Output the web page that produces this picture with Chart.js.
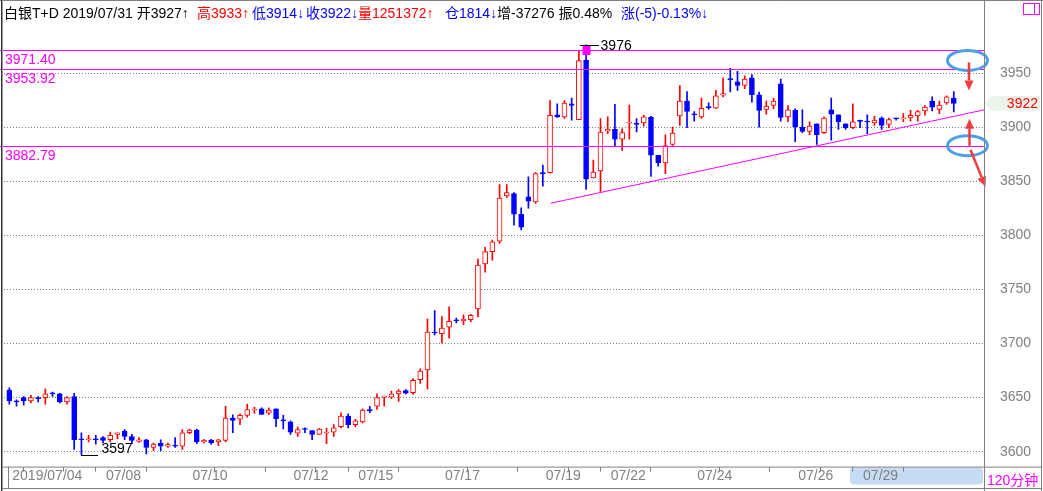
<!DOCTYPE html>
<html><head><meta charset="utf-8">
<script src="https://cdn.jsdelivr.net/npm/chart.js@4/dist/chart.umd.min.js"></script>
<style>html,body{margin:0;padding:0;background:#fff;overflow:hidden}canvas{display:block}</style>
</head><body><canvas id="c" width="1043" height="491"></canvas>
<script>
// ---- data (120-minute candles, 白银T+D) ----
const opens = [3657,3646.3,3650,3647,3649.3,3650,3653.8,3653.5,3646,3651,
3611.3,3611,3611.3,3613,3611,3616,3619,3614,3609.5,3611,
3604,3608,3605,3605.3,3605,3617.5,3620,3609,3610.5,3609,
3610.5,3631,3630,3633.5,3638.5,3639.5,3635.5,3639.5,3629.5,3627.5,
3617,3620.8,3619.5,3616,3617.3,3618,3623,3633,3625,3627.5,
3638.3,3642,3650.3,3650.5,3653.5,3656.5,3654.5,3666.5,3675.5,3710,
3709,3715,3721.3,3721,3722,3732,3773.5,3785,3794.5,3836.5,
3838.5,3819.5,3835.5,3831,3857.3,3858,3911.5,3909.5,3921.5,3907,
3962,3853,3859.5,3896.5,3898,3889,3903.6,3902.9,3904,3909,
3874,3867,3884,3910.5,3924,3911.8,3909.5,3918.3,3917.5,3929.5,
3944.3,3942,3938.5,3945.5,3930,3916.5,3920,3940,3909.5,3915.5,
3900,3896,3903,3895,3916,3911.5,3903,3899.5,3905.6,3905.1,
3904,3908.5,3902.5,3908.1,3907.6,3908.5,3910.5,3915,3924,3916.5,
3922.5,3927];
const highs = [3659,3648,3651,3652,3651,3658,3655,3654,3651,3654,
3617.5,3615,3615,3614,3618,3617.5,3620.5,3616,3613,3611.5,
3608,3611,3608,3613,3620.5,3621,3621,3611.5,3611.5,3611.5,
3642,3634,3635,3644,3641,3640.5,3640.5,3639.5,3633.5,3628.5,
3623,3622,3619.5,3621.5,3621.5,3625,3636,3635,3630,3639.5,
3642,3653.5,3651.5,3656,3657.5,3657.5,3667.5,3676.5,3722.5,3730.5,
3725,3734,3723.5,3726.5,3727,3778,3789,3795.5,3847,3847,
3839.5,3825.5,3854,3858,3865,3924.5,3921.5,3924.5,3927,3970,
3976,3869.5,3908,3909.5,3921,3898.5,3920.5,3908,3911,3910,
3874,3893,3900,3938.5,3933,3914.5,3927,3922.5,3934,3945.5,
3954.5,3951.5,3947.5,3948.5,3932.5,3924,3927,3944.5,3920,3917,
3916,3905,3903,3909.5,3927,3911.5,3903,3921.5,3906.5,3911.5,
3910,3909.5,3908.5,3908.5,3912.5,3915.5,3915.5,3920,3928,3924,
3929,3933];
const lows = [3644,3642,3643,3645,3646,3644,3651,3645,3644,3602,
3597,3609,3607,3608,3609,3612,3611,3607.5,3608.5,3598,
3601,3601,3604,3604,3602,3616.5,3607.5,3608,3607,3605.5,
3609,3617.5,3625,3632,3635.5,3634.5,3634.5,3623,3621,3616,
3614,3617.5,3611,3616,3607.5,3614,3622,3622,3623,3626.5,
3636,3639,3642,3649,3646.5,3653.5,3653,3663,3658,3708,
3700.5,3705,3719,3717.5,3720,3724.5,3766,3777,3792.5,3835,
3809.5,3805,3825,3829.5,3845.5,3857.5,3909,3908,3906.5,3907,
3842.5,3853,3840.5,3894,3882.5,3878.5,3889,3895.5,3901,3854.5,
3864,3857,3882.5,3901.5,3899.5,3905.5,3908,3916.5,3917,3928,
3932.5,3934,3935.5,3923,3900,3912,3917,3905.5,3905,3886.5,
3895,3893,3884,3894,3888,3898,3898,3898.5,3899.5,3894,
3901.5,3898,3899.5,3906.5,3905,3905.5,3905.5,3911,3915,3912.5,
3921,3914];
const closes = [3647,3646,3647,3650,3649,3653.5,3653.5,3646,3650,3611,
3611,3611.3,3611,3610.5,3615,3617.5,3614,3610.5,3611,3604,
3607,3605,3606.5,3605,3617.5,3620,3609,3610.5,3608,3611,
3631,3629,3633.5,3639,3638.8,3634.5,3638.5,3630.5,3628.5,3618,
3620.5,3620.5,3616,3621,3617.6,3622,3633,3625,3628.5,3638.5,
3638,3650,3651.5,3653.5,3656,3654,3666,3674.5,3710.5,3709.7,
3714.3,3720.5,3721,3722.5,3726,3772.5,3785,3794,3834.5,3839.5,
3819.5,3807.5,3831.5,3857,3857,3911,3909.5,3922.3,3920,3961.5,
3852,3858.5,3895.5,3898,3889,3895,3904,3902.6,3909.5,3874,
3867,3883,3894.5,3924,3914.5,3911.5,3917.5,3918,3929,3931,
3944,3938.5,3944.5,3930,3915.5,3919.5,3924,3909,3916,3900.5,
3896,3901,3893,3908.5,3912,3905,3899.5,3905,3905.3,3904.8,
3906.5,3901.5,3907,3907.8,3907.9,3911,3914.5,3918.5,3918.5,3920.5,
3928,3922];

const xTickIdx    = [0, 4, 11, 13, 25, 32, 39, 46, 48, 60, 67, 74, 81, 83, 95, 102, 109, 116, 118, 130];
const xTickLabels = ['2019/07/04','','','07/08','07/10','','07/12','','07/15','07/17','','07/19','','07/22','07/24','','07/26','','07/29',''];
const yTicks = [3600, 3650, 3700, 3750, 3800, 3850, 3900, 3950];
const levels = [3971.40, 3953.92, 3882.79];
const trendLine = [{x: 75.1, y: 3829.7}, {x: 135.2, y: 3916}];
const circleMarks = [{x: 132.9, y: 3961.7}, {x: 132.9, y: 3882.9}];
const scrollFrom = 116.6;
const headerTexts  = ['白银T+D 2019/07/31 开3927↑','高3933↑','低3914↓','收3922↓','量1251372↑','仓1814↓','增-37276 振0.48%','涨(-5)-0.13%↓'];
const headerColors = ['#000000','#ff0000','#0000ff','#0000ff','#ff0000','#0000ff','#000000','#0000ff'];
const periodLabel = '120分钟';

// ---- chart ----
const RED = '#ff0000', BLUE = '#0000ff', MAG = '#ff00ff', GREY = '#808080';
const FONT = "'Liberation Sans', Arial, 'Noto Sans CJK SC', sans-serif";
Chart.defaults.font.family = FONT;
const isUp = i => closes[i] >= opens[i];
const idx = opens.map((_, i) => i);
const labelMap = {}; xTickIdx.forEach((v, k) => labelMap[v] = xTickLabels[k]);

const maxHigh = Math.max(...highs), hiIdx = highs.indexOf(maxHigh);
const minLow = Math.min(...lows), loIdx = lows.indexOf(minLow);

const overlay = {
  id: 'overlay',
  beforeDraw(chart) {
    const c = chart.ctx, xs = chart.scales.x, a = chart.chartArea;
    c.save();
    c.fillStyle = '#fff'; c.fillRect(0, 0, chart.width, chart.height);
    const x0 = Math.round(xs.getPixelForValue(scrollFrom)), x1 = a.right - 1, y0 = a.bottom + 1, h = 17, r = 4;
    c.fillStyle = '#c5dcf3';
    c.beginPath();
    c.moveTo(x0 + r, y0); c.lineTo(x1 - r, y0); c.quadraticCurveTo(x1, y0, x1, y0 + r);
    c.lineTo(x1, y0 + h - r); c.quadraticCurveTo(x1, y0 + h, x1 - r, y0 + h);
    c.lineTo(x0 + r, y0 + h); c.quadraticCurveTo(x0, y0 + h, x0, y0 + h - r);
    c.lineTo(x0, y0 + r); c.quadraticCurveTo(x0, y0, x0 + r, y0); c.fill();
    c.restore();
  },
  afterDatasetsDraw(chart) {
    const c = chart.ctx, xs = chart.scales.x, ys = chart.scales.y, a = chart.chartArea;
    c.save();
    c.setLineDash([]);
    // horizontal level lines
    c.font = '14px ' + FONT; c.textBaseline = 'alphabetic'; c.textAlign = 'left';
    levels.forEach(v => {
      const y = Math.round(ys.getPixelForValue(v));
      c.fillStyle = MAG;
      c.fillRect(0, y, a.right, 1);
      c.fillText(v.toFixed(2), 5, y + 14);
    });
    // highest marker
    const hx = xs.getPixelForValue(hiIdx), hy = Math.round(ys.getPixelForValue(maxHigh));
    c.fillStyle = MAG; c.fillRect(Math.round(hx) - 3.5, hy, 8, 10);
    c.fillStyle = '#000';
    c.fillRect(Math.round(hx - 6), hy, 19, 1);
    c.font = '14px ' + FONT;
    c.fillText(String(maxHigh), hx + 14.5, hy + 5);
    // lowest marker
    const lx = xs.getPixelForValue(loIdx), ly = Math.round(ys.getPixelForValue(minLow));
    c.fillRect(Math.round(lx), ly, 17, 1);
    c.fillText(String(minLow), lx + 20, ly - 2);
    // circles and arrows
    c.strokeStyle = '#4f9fe6'; c.lineWidth = 3;
    const cp = circleMarks.map(m => ({x: xs.getPixelForValue(m.x), y: ys.getPixelForValue(m.y)}));
    cp.forEach(p => { c.beginPath(); c.ellipse(p.x, p.y, 20, 10, 0, 0, Math.PI * 2); c.stroke(); });
    const arrow = (x0, y0, x1, y1) => {
      const ang = Math.atan2(y1 - y0, x1 - x0), hl = 10, hw = 4.5;
      const bx = x1 - hl * Math.cos(ang), by = y1 - hl * Math.sin(ang);
      c.strokeStyle = '#f23c3c'; c.fillStyle = '#f23c3c'; c.lineWidth = 2.5;
      c.beginPath(); c.moveTo(x0, y0); c.lineTo(bx, by); c.stroke();
      c.beginPath(); c.moveTo(x1, y1);
      c.lineTo(bx + hw * Math.sin(ang), by - hw * Math.cos(ang));
      c.lineTo(bx - hw * Math.sin(ang), by + hw * Math.cos(ang)); c.closePath(); c.fill();
    };
    arrow(cp[0].x + 1.5, cp[0].y + 2, cp[0].x + 1.5, cp[0].y + 30);
    arrow(cp[1].x + 2, cp[1].y, cp[1].x + 2, cp[1].y - 27);
    arrow(cp[1].x + 3, cp[1].y + 4, cp[1].x + 18, cp[1].y + 41);
    c.restore();
  },
  afterDraw(chart) {
    const c = chart.ctx, ys = chart.scales.y, a = chart.chartArea, W = chart.width, H = chart.height;
    c.save();
    c.setLineDash([]);
    c.lineWidth = 1; c.strokeStyle = GREY;
    const ln = (x0, y0, x1, y1) => { c.beginPath(); c.moveTo(x0, y0); c.lineTo(x1, y1); c.stroke(); };
    ln(0, 0.5, W, 0.5);
    ln(a.right + 0.5, 0, a.right + 0.5, H);
    ln(W - 1.5, 0, W - 1.5, H);
    ln(2, a.bottom + 0.5, W - 1, a.bottom + 0.5);
    ln(2, H - 2.5, W - 1, H - 2.5);
    ln(8.5, a.bottom, 8.5, H - 2);
    c.strokeStyle = '#333'; ln(1.5, 0, 1.5, H);
    c.strokeStyle = '#999'; ln(2.5, 0, 2.5, H);
    // header
    const hx = [4, 197, 252, 306, 358, 445, 497, 621];
    c.font = '14px ' + FONT; c.textBaseline = 'alphabetic'; c.textAlign = 'left';
    headerTexts.forEach((t, k) => { c.fillStyle = headerColors[k]; c.fillText(t, hx[k], 18); });
    // icon top-right
    c.strokeStyle = MAG; c.strokeRect(W - 19.5, 3.5, 16, 11); ln(W - 8.5, 3.5, W - 8.5, 14.5);
    // last price tag
    const last = closes[closes.length - 1], ty = ys.getPixelForValue(last);
    c.fillStyle = '#ebf4eb';
    c.beginPath(); c.moveTo(a.right + 1, ty); c.lineTo(a.right + 8, ty - 7.5); c.lineTo(W - 3, ty - 7.5);
    c.lineTo(W - 3, ty + 7.5); c.lineTo(a.right + 8, ty + 7.5); c.closePath(); c.fill();
    c.fillStyle = RED; c.textAlign = 'right'; c.fillText(String(last), W - 5, ty + 5);
    // period label
    c.fillStyle = MAG; c.textAlign = 'left'; c.fillText(periodLabel, a.right + 3, H - 6);
    c.restore();
  }
};

new Chart(document.getElementById('c'), {
  type: 'bar',
  data: {
    datasets: [
      {
        type: 'line', data: trendLine, borderColor: MAG, borderWidth: 1, pointRadius: 0, order: 0, fill: false
      },
      {
        data: idx.map(i => ({x: i, y: [opens[i], closes[i]]})),
        backgroundColor: idx.map(i => isUp(i) ? '#ffffff' : BLUE),
        borderColor: idx.map(i => isUp(i) ? RED : BLUE),
        borderWidth: 1, borderSkipped: false, barThickness: 5, minBarLength: 1, grouped: false, order: 1
      },
      {
        data: idx.map(i => ({x: i, y: [lows[i], highs[i]]})),
        backgroundColor: idx.map(i => isUp(i) ? RED : BLUE),
        borderWidth: 0, barThickness: 1, grouped: false, order: 2
      }
    ]
  },
  options: {
    responsive: false, animation: false, devicePixelRatio: 1,
    layout: {padding: {top: 24, left: 4, right: 0, bottom: 0}},
    plugins: {legend: {display: false}, tooltip: {enabled: false}},
    scales: {
      x: {
        type: 'linear', min: -0.735, max: 135.19, offset: false,
        grid: {drawOnChartArea: false, drawTicks: true, tickLength: 5,
               tickColor: ctx => ctx.index === 0 ? 'rgba(0,0,0,0)' : GREY},
        border: {display: false},
        ticks: {autoSkip: false, maxRotation: 0, minRotation: 0, align: 'start', labelOffset: 3, padding: -4,
                color: GREY, font: {size: 14}, callback: v => labelMap[v] ?? ''},
        afterBuildTicks: s => { s.ticks = xTickIdx.map(v => ({value: v})); },
        afterFit: s => { s.height = 22; }
      },
      y: {
        type: 'linear', position: 'right', min: 3586.2, max: 3995.0,
        grid: {color: GREY, lineWidth: 1, drawTicks: false},
        border: {display: false, dash: [1, 2]},
        ticks: {color: GREY, padding: 16, font: {size: 14}, callback: v => String(v)},
        afterBuildTicks: s => { s.ticks = yTicks.map(v => ({value: v})); },
        afterFit: s => { s.width = 59; }
      }
    }
  },
  plugins: [overlay]
});
</script></body></html>
